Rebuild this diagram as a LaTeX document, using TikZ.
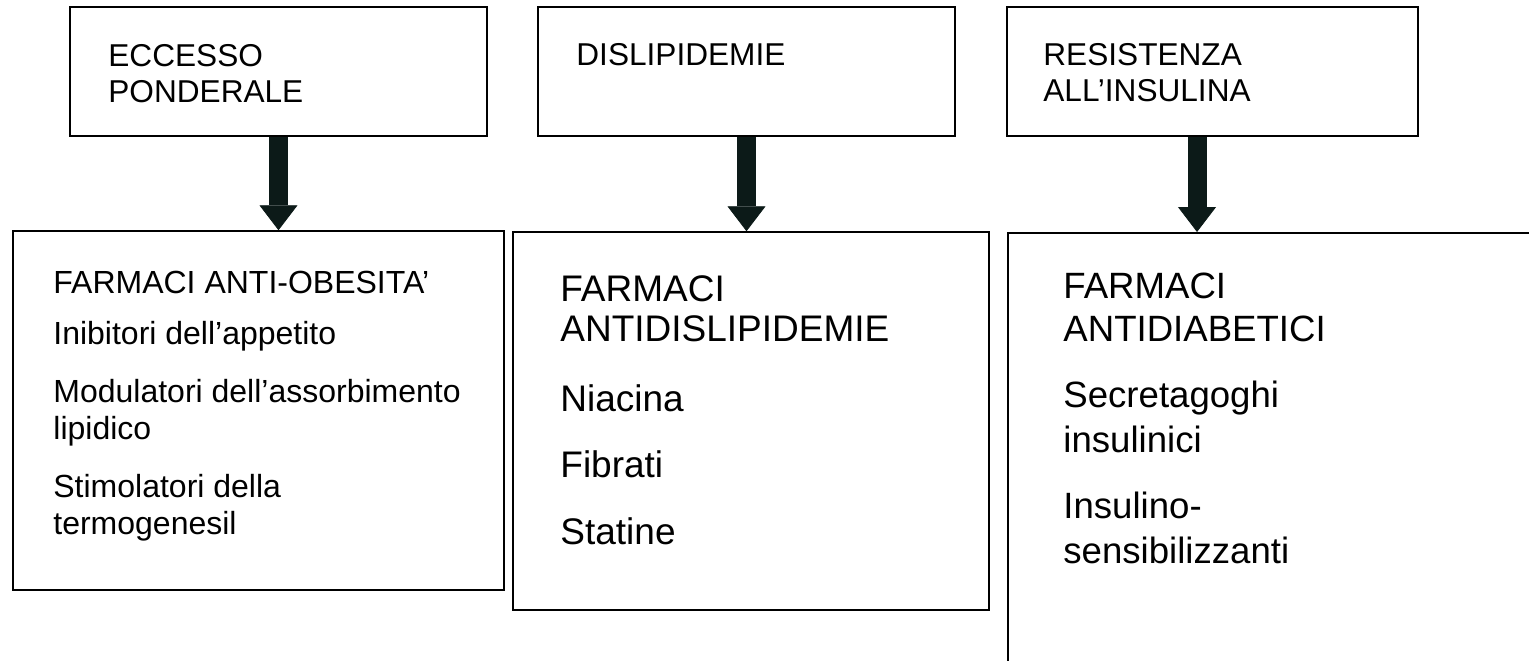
\documentclass[tikz,border=0pt]{standalone}
\usepackage{fontspec}
\setmainfont{Liberation Sans}
\usepackage{tikz}
\usetikzlibrary{positioning,arrows.meta}
\definecolor{arrowdark}{RGB}{12,26,24}

\begin{document}
\begin{tikzpicture}[x=0.5pt, y=-0.5pt,
    box/.style={draw, line width=0.75pt, inner sep=0pt},
    label/.style={anchor=north west, inner sep=0pt, align=left},
    bigarrow/.style={draw=arrowdark, line width=9.5pt,
        -{Triangle[width=19pt, length=12.5pt, line width=0.4pt]}}]
        \useasboundingbox (0,0) rectangle (1529,660);
        \clip (0,0) rectangle (1529,660);
        % causes
        \node[box, minimum width=208.5pt, minimum height=64.5pt] (eccesso) at (278.5,71.5) {};
        \node[box, minimum width=208.5pt, minimum height=64.5pt] (dislip) at (746.5,71.5) {};
        \node[box, minimum width=205.5pt, minimum height=64.5pt] (resist) at (1212.5,71.5) {};
        \node[label, font=\fontsize{15.8}{18}\selectfont] (eccessotxt) at (108,44) {ECCESSO\\PONDERALE};
        \node[label, font=\fontsize{15.8}{18}\selectfont] (disliptxt) at (576,43) {DISLIPIDEMIE};
        \node[label, font=\fontsize{15.8}{18}\selectfont] (resisttxt) at (1043,43) {RESISTENZA\\ALL’INSULINA};
        % drugs
        \node[box, minimum width=245.5pt, minimum height=179.5pt] (obes) at (258.5,410.5) {};
        \node[box, minimum width=238pt, minimum height=189pt] (antidis) at (751,421) {};
        \node[box, line width=1pt, anchor=north west, minimum width=320pt, minimum height=260pt] (antidiab) at (1007,232) {};
        \node[label, font=\fontsize{16}{18.5}\selectfont] (obestxt) at (53,271)
            {FARMACI ANTI-OBESITA’\\[7pt]
             Inibitori dell’appetito\\[10.5pt]
             Modulatori dell’assorbimento\\lipidico\\[10.5pt]
             Stimolatori della\\termogenesil};
        \node[label, font=\fontsize{18.5}{20}\selectfont] (antidistxt) at (560,275)
            {FARMACI\\ANTIDISLIPIDEMIE\\[15pt]
             Niacina\\[13pt]
             Fibrati\\[13.5pt]
             Statine};
        \node[label, font=\fontsize{18.3}{22.5}\selectfont] (antidiabtxt) at (1063,273)
            {FARMACI\\[-1pt]ANTIDIABETICI\\[10.5pt]
             Secretagoghi\\insulinici\\[10.5pt]
             Insulino-\\sensibilizzanti};
        % arrows
        \coordinate (resistx) at (1197,0);
        \draw[bigarrow] (eccesso.south) -- (eccesso.south |- obes.north);
        \draw[bigarrow] (dislip.south) -- (dislip.south |- antidis.north);
        \draw[bigarrow] (resist.south -| resistx) -- (antidiab.north -| resistx);
    \end{tikzpicture}
\end{document}
